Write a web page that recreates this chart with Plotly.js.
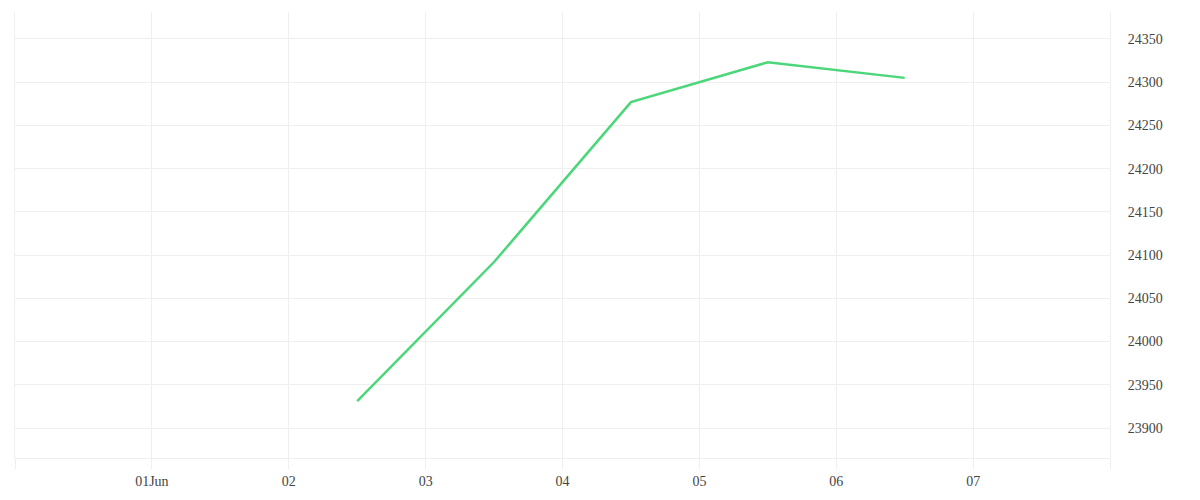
<!DOCTYPE html>
<html>
<head>
<meta charset="utf-8">
<script src="https://cdn.plot.ly/plotly-3.0.1.min.js"></script>
<style>html,body{margin:0;padding:0;background:#fff;}#chart{width:1200px;height:500px;}</style>
</head>
<body>
<div id="chart"></div>
<script>
const dates = ['2024-06-02 12:00', '2024-06-03 12:00', '2024-06-04 12:00', '2024-06-05 12:00', '2024-06-06 12:00'];
const values = [23931, 24092, 24277, 24323, 24305];
const tickDates = ['2024-05-31', '2024-06-01', '2024-06-02', '2024-06-03', '2024-06-04', '2024-06-05', '2024-06-06', '2024-06-07', '2024-06-08'];
const tickLabels = ['', '01Jun', '02', '03', '04', '05', '06', '07', ''];
const yTicks = [23900, 23950, 24000, 24050, 24100, 24150, 24200, 24250, 24300, 24350];

const grid = '#efefef';
const trace = {
  x: dates, y: values, type: 'scatter', mode: 'lines',
  line: {color: '#4cd67a', width: 2.5},
  hoverinfo: 'skip'
};
const layout = {
  width: 1200, height: 500,
  margin: {l: 15, r: 90, t: 12, b: 42},
  paper_bgcolor: '#fff', plot_bgcolor: '#fff',
  font: {family: 'Liberation Serif', size: 14, color: '#444'},
  showlegend: false,
  xaxis: {
    type: 'date', range: ['2024-05-31', '2024-06-08'],
    tickmode: 'array', tickvals: tickDates, ticktext: tickLabels,
    showgrid: true, gridcolor: grid, gridwidth: 1,
    showline: true, linecolor: grid, linewidth: 1,
    ticks: 'outside', ticklen: 10, tickcolor: grid, tickwidth: 1,
    zeroline: false
  },
  yaxis: {
    side: 'right', range: [23865.3, 24381.2],
    tickmode: 'array', tickvals: yTicks, tickformat: 'd',
    showgrid: true, gridcolor: grid, gridwidth: 1,
    showline: true, mirror: true, linecolor: grid, linewidth: 1,
    ticks: '', ticklabelstandoff: 14,
    zeroline: false
  }
};
Plotly.newPlot('chart', [trace], layout, {displayModeBar: false, staticPlot: true});
</script>
</body>
</html>
